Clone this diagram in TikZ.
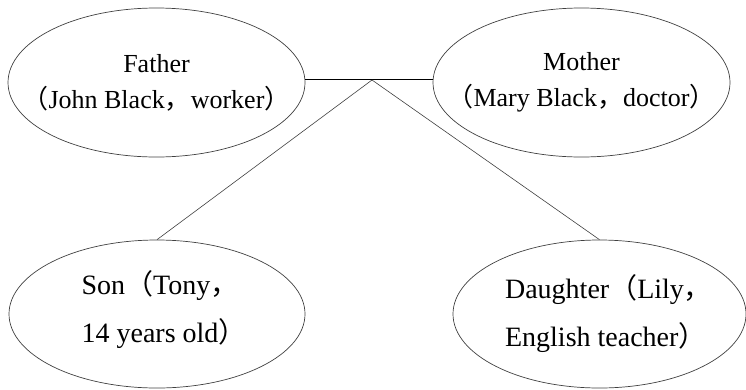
\documentclass[tikz,border=0pt]{standalone}
\usepackage{fontspec}
\setmainfont{Liberation Serif}
\newfontfamily\cjk{Noto Sans CJK SC}
\usetikzlibrary{shapes.geometric}
\tikzset{
  person/.style={ellipse, draw=black!75, line width=0.7pt, inner sep=0pt},
  parents/.style={align=center, font=\fontsize{26}{36}\selectfont},
  children/.style={align=left, font=\fontsize{28}{48}\selectfont},
  tie/.style={draw=black!75, line width=0.6pt}
}
\begin{document}
\begin{tikzpicture}[x=1pt,y=-1pt]
  \useasboundingbox (0,0) rectangle (746,389);
  \node[person, minimum width=297pt, minimum height=149pt,
    label={[parents]center:Father\\{\cjk （}John Black{\cjk ，}worker{\cjk ）}}] (father) at (156.5,82.5) {};
  \node[person, minimum width=297pt, minimum height=149pt,
    label={[parents]center:Mother\\{\cjk （}Mary Black{\cjk ，}doctor{\cjk ）}}] (mother) at (581.5,82.5) {};
  \node[person, minimum width=296pt, minimum height=148pt,
    label={[children, xshift=7pt, yshift=4pt]center:Son{\cjk （}Tony{\cjk ，}\\14 years old{\cjk ）}}] (son) at (157,314) {};
  \node[person, minimum width=293pt, minimum height=148pt,
    label={[children, xshift=9pt]center:Daughter{\cjk （}Lily{\cjk ，}\\English teacher{\cjk ）}}] (daughter) at (599.5,314) {};
  \coordinate (apex) at (372,80);
  \draw[line width=1pt] ([yshift=3.5pt]father.east) -- ([yshift=3.5pt]mother.west);
  \draw[tie] (apex) -- (son.north);
  \draw[tie] (apex) -- (daughter.north);
\end{tikzpicture}
\end{document}
